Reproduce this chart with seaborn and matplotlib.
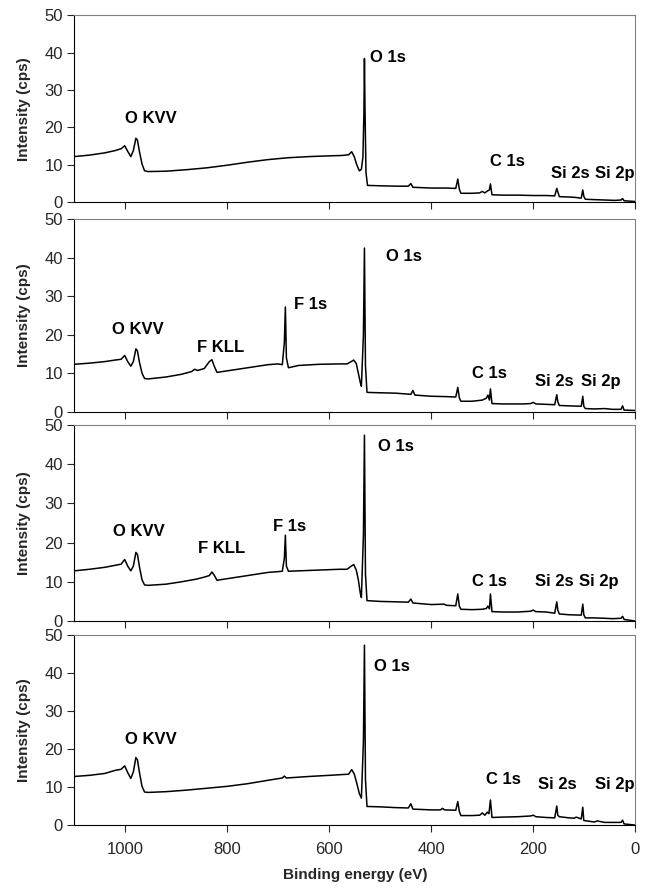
# -*- coding: utf-8 -*-

import pandas as pd
import seaborn as sns
import matplotlib.pyplot as plt

# ---1. spectra (binding energy in eV, intensity in cps) ----
energy_1 = [1100, 1070, 1040, 1020, 1008, 1001, 995, 989, 984, 979,
            976, 972, 967, 962, 955, 920, 880, 840, 800, 760,
            720, 680, 640, 600, 575, 562, 556, 551, 546, 541,
            537, 534, 532, 531, 530, 528, 525, 500, 470, 445,
            440, 436, 400, 370, 352, 348, 345, 342, 320, 305,
            300, 295, 290, 286, 284, 281, 260, 230, 200, 175,
            158, 154, 152, 149, 130, 118, 106, 103, 101, 98,
            80, 60, 40, 28, 25, 22, 0]
counts_1 = [12.2, 12.6, 13.2, 13.8, 14.3, 15.1, 13.6, 12.2, 13.8, 17.1,
            16.6, 13.5, 10.2, 8.4, 8.2, 8.3, 8.7, 9.2, 9.9, 10.7,
            11.4, 11.9, 12.2, 12.4, 12.5, 12.7, 13.5, 12.2, 10.0, 8.4,
            8.8, 12.0, 24.0, 38.4, 26.0, 8.0, 4.5, 4.4, 4.3, 4.3,
            5.0, 4.0, 3.8, 3.8, 3.7, 6.2, 3.5, 2.4, 2.4, 2.5,
            2.9, 2.5, 3.0, 3.3, 4.9, 2.0, 1.9, 1.9, 1.8, 1.8,
            1.7, 3.7, 2.8, 1.5, 1.4, 1.3, 1.1, 3.3, 1.6, 0.8,
            0.7, 0.6, 0.5, 0.6, 1.0, 0.4, 0.2]

energy_2 = [1100, 1070, 1040, 1020, 1008, 1001, 995, 989, 984, 979,
            976, 972, 967, 962, 955, 920, 890, 870, 864, 858,
            845, 835, 830, 826, 820, 800, 760, 720, 700, 692,
            688, 686, 684, 680, 660, 620, 580, 565, 557, 552,
            547, 543, 539, 537, 533, 531, 529, 526, 500, 470,
            440, 436, 432, 400, 370, 352, 348, 345, 342, 320,
            300, 292, 289, 286, 284, 281, 260, 220, 205, 200,
            195, 175, 158, 154, 152, 149, 130, 106, 103, 101,
            98, 80, 60, 45, 28, 25, 22, 0]
counts_2 = [12.3, 12.6, 13.0, 13.4, 13.6, 14.6, 13.0, 11.8, 13.0, 16.3,
            15.8, 12.8, 10.0, 8.6, 8.5, 9.0, 9.7, 10.4, 11.0, 10.7,
            11.2, 13.0, 13.5, 12.0, 10.2, 10.6, 11.4, 12.2, 12.4, 12.2,
            18.0, 27.2, 14.0, 11.4, 12.0, 12.3, 12.4, 12.4, 13.0, 13.4,
            12.5, 10.0, 7.5, 6.6, 20.0, 42.5, 12.0, 5.0, 4.9, 4.8,
            4.5, 5.5, 4.3, 4.0, 3.9, 3.8, 6.3, 3.6, 2.7, 2.7,
            3.0, 3.5, 4.3, 3.0, 5.9, 2.1, 2.0, 2.0, 2.1, 2.4,
            2.0, 1.9, 1.8, 4.4, 2.6, 1.6, 1.5, 1.4, 4.0, 1.4,
            0.8, 0.7, 0.8, 0.6, 0.6, 1.5, 0.4, 0.3]

energy_3 = [1100, 1070, 1040, 1020, 1008, 1001, 995, 989, 984, 979,
            976, 972, 967, 962, 955, 920, 890, 860, 845, 835,
            830, 826, 820, 800, 760, 720, 700, 692, 688, 686,
            684, 680, 660, 620, 580, 565, 557, 552, 547, 543,
            539, 537, 533, 531, 529, 526, 500, 470, 445, 440,
            436, 400, 375, 370, 352, 348, 345, 342, 320, 300,
            292, 289, 286, 284, 281, 260, 230, 205, 200, 195,
            175, 158, 154, 152, 149, 130, 106, 103, 101, 98,
            80, 60, 45, 28, 25, 22, 0]
counts_3 = [12.8, 13.2, 13.7, 14.2, 14.5, 15.7, 14.0, 12.8, 14.0, 17.5,
            17.0, 13.8, 10.5, 9.2, 9.1, 9.4, 10.0, 10.7, 11.2, 11.6,
            12.5, 11.8, 10.4, 10.8, 11.6, 12.4, 12.6, 12.7, 16.0, 21.9,
            14.0, 12.7, 12.8, 13.0, 13.2, 13.2, 14.0, 14.4, 13.0, 10.5,
            7.0, 6.0, 22.0, 47.4, 12.0, 5.2, 5.0, 4.9, 4.8, 5.6,
            4.6, 4.2, 4.3, 4.0, 3.9, 6.9, 3.8, 3.0, 2.9, 3.0,
            3.2, 3.8, 3.1, 6.9, 2.4, 2.3, 2.3, 2.5, 2.8, 2.4,
            2.3, 2.0, 4.9, 2.8, 1.8, 1.6, 1.5, 4.3, 1.6, 0.8,
            0.8, 0.7, 0.6, 0.7, 1.2, 0.4, 0.0]

energy_4 = [1100, 1070, 1040, 1020, 1008, 1001, 995, 989, 984, 979,
            976, 972, 967, 962, 955, 920, 880, 840, 800, 760,
            720, 692, 688, 684, 640, 600, 575, 562, 556, 551,
            546, 541, 537, 533, 531, 529, 526, 500, 470, 445,
            440, 436, 400, 382, 378, 374, 352, 348, 345, 342,
            320, 305, 300, 295, 290, 287, 284, 281, 260, 230,
            205, 200, 195, 175, 158, 154, 152, 149, 130, 120,
            116, 106, 103, 101, 80, 75, 60, 45, 28, 25,
            22, 0]
counts_4 = [12.8, 13.1, 13.6, 14.4, 14.7, 15.6, 13.8, 12.3, 14.0, 17.8,
            17.2, 13.8, 10.2, 8.7, 8.6, 8.8, 9.2, 9.7, 10.2, 10.9,
            11.8, 12.4, 12.9, 12.4, 12.8, 13.1, 13.3, 13.4, 14.6, 13.5,
            11.0, 8.3, 7.1, 22.0, 47.4, 12.0, 4.9, 4.8, 4.6, 4.5,
            5.6, 4.2, 4.0, 4.0, 4.4, 4.0, 3.9, 6.2, 3.6, 2.5,
            2.5, 2.6, 3.2, 2.6, 3.4, 3.0, 6.6, 2.0, 2.1, 2.2,
            2.4, 2.6, 2.2, 2.0, 1.9, 5.0, 2.6, 2.2, 1.9, 1.8,
            2.1, 1.6, 4.7, 1.2, 0.8, 1.1, 0.7, 0.7, 0.7, 1.3,
            0.3, 0.0]

# ---2. peak labels (text, energy of left edge, intensity of centre) ----
labels_1 = ['O KVV', 'O 1s', 'C 1s', 'Si 2s', 'Si 2p']
label_x_1 = [1000, 521, 284, 166, 79]
label_y_1 = [22.4, 38.7, 10.9, 7.6, 7.6]

labels_2 = ['O KVV', 'F KLL', 'F 1s', 'O 1s', 'C 1s', 'Si 2s', 'Si 2p']
label_x_2 = [1026, 860, 670, 488, 320, 196, 106]
label_y_2 = [21.4, 16.6, 27.8, 40.3, 10.0, 7.8, 7.8]

labels_3 = ['O KVV', 'F KLL', 'F 1s', 'O 1s', 'C 1s', 'Si 2s', 'Si 2p']
label_x_3 = [1024, 858, 710, 505, 320, 196, 110]
label_y_3 = [22.8, 18.4, 24.2, 44.5, 10.0, 10.0, 10.0]

labels_4 = ['O KVV', 'O 1s', 'C 1s', 'Si 2s', 'Si 2p']
label_x_4 = [1000, 513, 292, 190, 80]
label_y_4 = [22.5, 41.9, 11.9, 10.6, 10.6]

X_TICKS = [1000, 800, 600, 400, 200, 0]
Y_TICKS = [0, 10, 20, 30, 40, 50]


def main():
    sns.set_style('ticks')
    plt.rcParams['font.family'] = ['Liberation Sans', 'DejaVu Sans']

    panels = [
        (energy_1, counts_1, labels_1, label_x_1, label_y_1),
        (energy_2, counts_2, labels_2, label_x_2, label_y_2),
        (energy_3, counts_3, labels_3, label_x_3, label_y_3),
        (energy_4, counts_4, labels_4, label_x_4, label_y_4),
    ]
    # axes boxes in figure fractions (left, bottom, width, height)
    boxes = [
        (0.115, 0.773, 0.870, 0.210),
        (0.115, 0.538, 0.870, 0.216),
        (0.115, 0.303, 0.870, 0.220),
        (0.115, 0.074, 0.870, 0.213),
    ]

    fig = plt.figure(figsize=(6.45, 8.91), dpi=100)

    for i, ((e, c, labs, lx, ly), box) in enumerate(zip(panels, boxes)):
        ax = fig.add_axes(box)
        df = pd.DataFrame({'energy': e, 'intensity': c})
        sns.lineplot(data=df, x='energy', y='intensity', ax=ax,
                     color='black', linewidth=1.1, estimator=None)

        ax.set_xlim(1100, 0)
        ax.set_ylim(0, 50)
        ax.set_xticks(X_TICKS)
        ax.set_yticks(Y_TICKS)
        ax.tick_params(axis='x', direction='out', length=5, width=0.8,
                       labelsize=12, pad=7, labelbottom=(i == 3))
        ax.tick_params(axis='y', direction='out', length=5, width=0.8,
                       labelsize=12, pad=3)

        for side in ['top', 'right']:
            ax.spines[side].set_color('#808080')
            ax.spines[side].set_linewidth(0.8)
        for side in ['left', 'bottom']:
            ax.spines[side].set_color('black')
            ax.spines[side].set_linewidth(0.8)

        ax.set_ylabel('Intensity (cps)', fontsize=11, fontweight='bold')
        ax.yaxis.set_label_coords(-0.077, 0.5)
        if i == 3:
            ax.set_xlabel('Binding energy (eV)', fontsize=11, fontweight='bold',
                          labelpad=8)
        else:
            ax.set_xlabel('')

        for t, x, y in zip(labs, lx, ly):
            ax.text(x, y, t, ha='left', va='center', fontsize=12,
                    fontweight='bold', color='black')

    plt.savefig('out.png', dpi=100)


if __name__ == '__main__':
    main()
